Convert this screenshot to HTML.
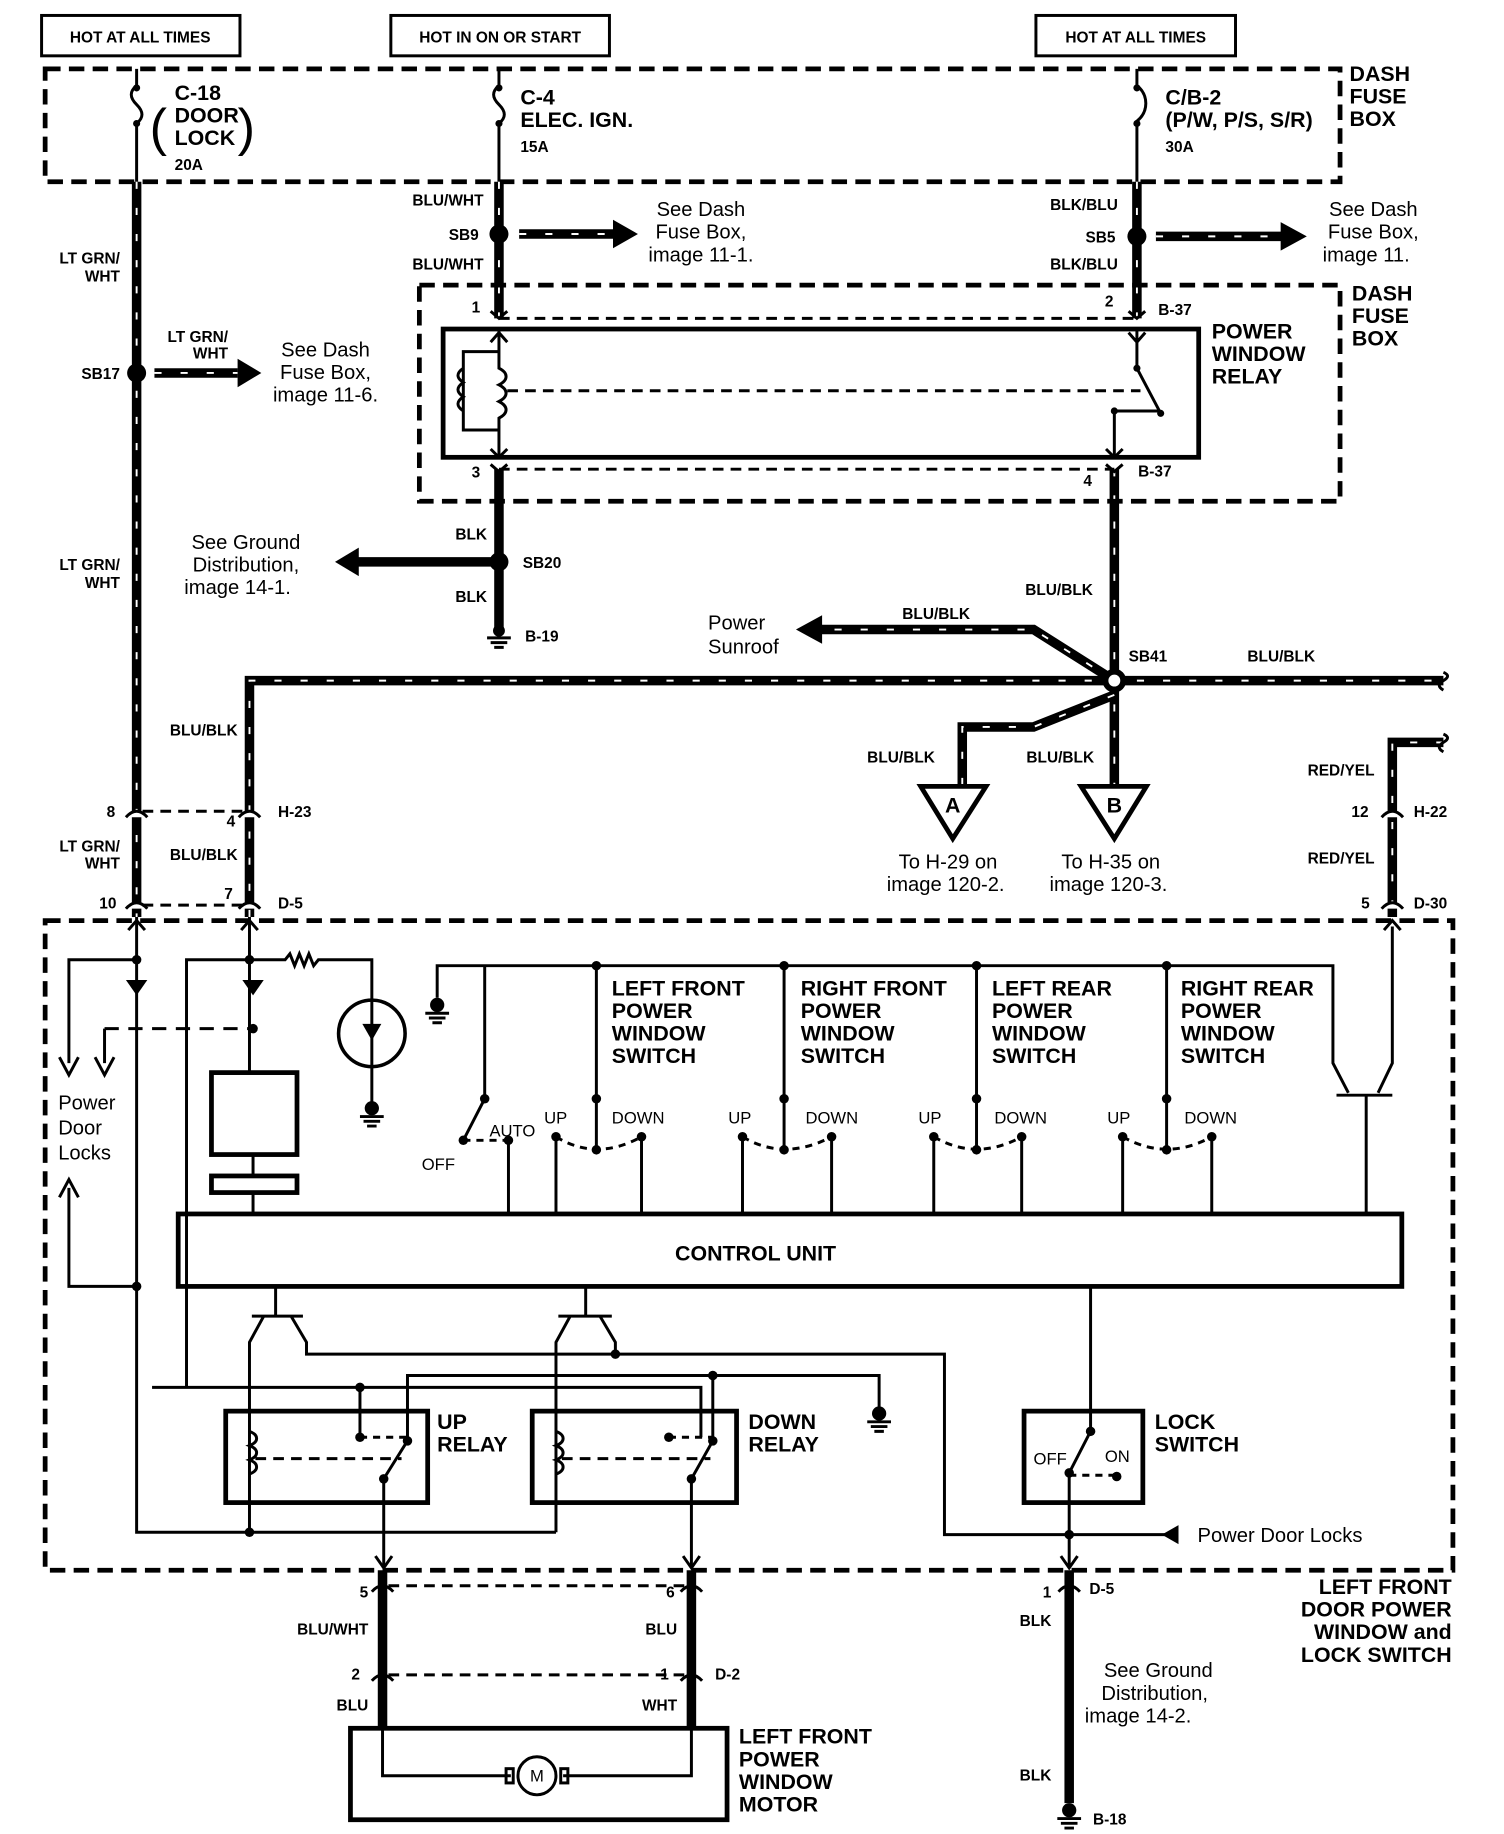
<!DOCTYPE html>
<html><head><meta charset="utf-8"><style>
html,body{margin:0;padding:0;background:#fff}
svg{display:block}
text{font-family:"Liberation Sans",Arial,sans-serif;fill:#000}
.s{font-size:13px;font-weight:bold}
.m{font-size:18px;font-weight:bold}
.r{font-size:17px}
.t{font-size:14px}
.w{fill:none;stroke:#000;stroke-width:8}
.wd{fill:none;stroke:#fff;stroke-width:1.6;stroke-dasharray:6 16}
.l{fill:none;stroke:#000;stroke-width:2.5}
.bx{fill:none;stroke:#000;stroke-width:4}
.db{fill:none;stroke:#000;stroke-width:4;stroke-dasharray:13 7}
.dl{fill:none;stroke:#000;stroke-width:2.5;stroke-dasharray:9 6}
.dot{fill:#000}
</style></head><body>
<svg width="1504" height="1834" viewBox="0 0 1266 1544" preserveAspectRatio="none" xmlns="http://www.w3.org/2000/svg">
<defs>
<path id="w1" fill="none" d="M115 153 V772"/>
<path id="w2" fill="none" d="M420 153 V268"/>
<path id="w3" fill="none" d="M957 153 V268"/>
<path id="w4" fill="none" d="M420 395 V530"/>
<path id="w5" fill="none" d="M938 395 V660"/>
<path id="w6" fill="none" d="M210 772 V573 H1215"/>
<path id="w7" fill="none" d="M938 573 L870 530 H690"/>
<path id="w8" fill="none" d="M938 585 L870 612 H810 V660"/>
<path id="w9" fill="none" d="M1215 625 H1172 V772"/>
<path id="w10" fill="none" d="M130 314 H200"/>
<path id="w11" fill="none" d="M437 197 H518"/>
<path id="w12" fill="none" d="M973 199 H1080"/>
<path id="w13" fill="none" d="M300 473 H420"/>
<path id="w14" fill="none" d="M322 1322 V1455"/>
<path id="w15" fill="none" d="M582 1322 V1455"/>
<path id="w16" fill="none" d="M900 1322 V1518"/>
</defs>
<!-- top boxes -->
<rect x="35" y="13" width="167" height="34" class="l" stroke-width="3"/>
<text x="118" y="36" class="s" text-anchor="middle">HOT AT ALL TIMES</text>
<rect x="329" y="13" width="184" height="34" class="l" stroke-width="3"/>
<text x="421" y="36" class="s" text-anchor="middle">HOT IN ON OR START</text>
<rect x="872" y="13" width="168" height="34" class="l" stroke-width="3"/>
<text x="956" y="36" class="s" text-anchor="middle">HOT AT ALL TIMES</text>

<rect x="38" y="58" width="1090" height="95" class="db"/>
<text class="m"><tspan x="1136" y="68">DASH</tspan><tspan x="1136" y="87">FUSE</tspan><tspan x="1136" y="106">BOX</tspan></text>
<g class="l">
<path d="M115 58 V72 c-6 5 -6 10 0 16 c6 6 6 11 0 16 V153"/>
<path d="M420 58 V72 c-6 5 -6 10 0 16 c6 6 6 11 0 16 V153"/>
<path d="M957 58 V72 c10 8 10 22 0 30 V153"/>
</g>
<circle cx="115" cy="74" r="3" class="dot"/><circle cx="115" cy="104" r="3" class="dot"/>
<circle cx="420" cy="74" r="3" class="dot"/><circle cx="420" cy="104" r="3" class="dot"/>
<circle cx="957" cy="74" r="3" class="dot"/><circle cx="957" cy="104" r="3" class="dot"/>
<text class="m"><tspan x="147" y="84">C-18</tspan><tspan x="147" y="103">DOOR</tspan><tspan x="147" y="122">LOCK</tspan></text>
<text x="126" y="122" style="font-size:44px">(</text><text x="200" y="122" style="font-size:44px">)</text>
<text x="147" y="143" class="s">20A</text>
<text class="m"><tspan x="438" y="88">C-4</tspan><tspan x="438" y="107">ELEC. IGN.</tspan></text>
<text x="438" y="128" class="s">15A</text>
<text class="m"><tspan x="981" y="88">C/B-2</tspan><tspan x="981" y="107">(P/W, P/S, S/R)</tspan></text>
<text x="981" y="128" class="s">30A</text>

<g class="w"><use href="#w1"/><use href="#w2"/><use href="#w3"/><use href="#w4"/><use href="#w5"/><use href="#w6"/><use href="#w7"/><use href="#w8"/><use href="#w9"/><use href="#w10"/><use href="#w11"/><use href="#w12"/><use href="#w13"/><use href="#w14"/><use href="#w15"/><use href="#w16"/></g>
<g class="wd"><use href="#w1"/><use href="#w2"/><use href="#w3"/><use href="#w5"/><use href="#w6"/><use href="#w7"/><use href="#w8"/><use href="#w9"/><use href="#w10"/><use href="#w11"/><use href="#w12"/></g>
<polygon points="200,302 220,314 200,326" class="dot"/>
<polygon points="516,185 537,197 516,209" class="dot"/>
<polygon points="1078,187 1100,199 1078,211" class="dot"/>
<polygon points="302,461 282,473 302,485" class="dot"/>
<polygon points="692,518 670,530 692,542" class="dot"/>
<circle cx="115" cy="314" r="8" class="dot"/>
<circle cx="420" cy="197" r="8" class="dot"/>
<circle cx="957" cy="199" r="8" class="dot"/>
<circle cx="420" cy="473" r="8" class="dot"/>
<circle cx="938" cy="573" r="10" class="dot"/><circle cx="938" cy="573" r="5" fill="#fff"/>
<path d="M1215 566 q7 3 0 7 q-7 4 0 8" class="l"/>
<path d="M1215 618 q7 3 0 7 q-7 4 0 8" class="l"/>

<text class="s" text-anchor="end"><tspan x="101" y="222">LT GRN/</tspan><tspan x="101" y="237">WHT</tspan></text>
<text class="s" text-anchor="end"><tspan x="101" y="480">LT GRN/</tspan><tspan x="101" y="495">WHT</tspan></text>
<text class="s" text-anchor="end"><tspan x="192" y="288">LT GRN/</tspan><tspan x="192" y="302">WHT</tspan></text>
<text x="101" y="319" class="s" text-anchor="end">SB17</text>
<text class="r" text-anchor="middle"><tspan x="274" y="300">See Dash</tspan><tspan x="274" y="319">Fuse Box,</tspan><tspan x="274" y="338">image 11-6.</tspan></text>
<text x="407" y="173" class="s" text-anchor="end">BLU/WHT</text>
<text x="403" y="202" class="s" text-anchor="end">SB9</text>
<text x="407" y="227" class="s" text-anchor="end">BLU/WHT</text>
<text class="r" text-anchor="middle"><tspan x="590" y="182">See Dash</tspan><tspan x="590" y="201">Fuse Box,</tspan><tspan x="590" y="220">image 11-1.</tspan></text>
<text x="941" y="177" class="s" text-anchor="end">BLK/BLU</text>
<text x="939" y="204" class="s" text-anchor="end">SB5</text>
<text x="941" y="227" class="s" text-anchor="end">BLK/BLU</text>
<text class="r" text-anchor="middle"><tspan x="1156" y="182">See Dash</tspan><tspan x="1156" y="201">Fuse Box,</tspan><tspan x="1150" y="220">image 11.</tspan></text>

<rect x="353" y="240" width="775" height="182" class="db"/>
<text class="m"><tspan x="1138" y="253">DASH</tspan><tspan x="1138" y="272">FUSE</tspan><tspan x="1138" y="291">BOX</tspan></text>
<rect x="373" y="277" width="636" height="108" class="bx"/>
<text class="m"><tspan x="1020" y="285">POWER</tspan><tspan x="1020" y="304">WINDOW</tspan><tspan x="1020" y="323">RELAY</tspan></text>
<path d="M420 268 H957" class="dl"/>
<path d="M420 395 H938" class="dl"/>
<g class="l">
<path d="M413 262 L420 268 L427 262 M950 262 L957 268 L964 262 M413 391 L420 397 L427 391 M931 391 L938 397 L945 391"/>
<path d="M420 277 V310 c8 4 8 10 0 14 c8 4 8 10 0 14 c8 4 8 10 0 14 V385 M413 288 L420 280 L427 288 M413 378 L420 385 L427 378"/>
<path d="M420 296 H390 V362 H420 M390 310 c-6 4 -6 8 0 12 c-6 4 -6 8 0 12 c-6 4 -6 8 0 12"/>
<path d="M427 329 H960" stroke-dasharray="9 6"/>
<path d="M957 277 V310 L977 348 M957 288 L950 280 M957 288 L964 280"/>
<path d="M938 385 V346 H975"/>
<path d="M931 378 L938 385 L945 378"/>
</g>
<circle cx="957" cy="310" r="3" class="dot"/><circle cx="977" cy="348" r="3" class="dot"/><circle cx="938" cy="346" r="3" class="dot"/>
<text x="397" y="263" class="s">1</text>
<text x="930" y="258" class="s">2</text>
<text x="975" y="265" class="s">B-37</text>
<text x="397" y="402" class="s">3</text>
<text x="912" y="409" class="s">4</text>
<text x="958" y="401" class="s">B-37</text>

<text x="410" y="454" class="s" text-anchor="end">BLK</text>
<text x="440" y="478" class="s">SB20</text>
<text x="410" y="507" class="s" text-anchor="end">BLK</text>
<text class="r" text-anchor="middle"><tspan x="207" y="462">See Ground</tspan><tspan x="207" y="481">Distribution,</tspan><tspan x="200" y="500">image 14-1.</tspan></text>
<circle cx="420" cy="531" r="5" class="dot"/>
<path d="M410 537 H430 M413 541 H427 M416 545 H424" class="l"/>
<text x="442" y="540" class="s">B-19</text>

<text x="920" y="501" class="s" text-anchor="end">BLU/BLK</text>
<text x="788" y="521" class="s" text-anchor="middle">BLU/BLK</text>
<text class="r"><tspan x="596" y="530">Power</tspan><tspan x="596" y="550">Sunroof</tspan></text>
<text x="950" y="557" class="s">SB41</text>
<text x="1050" y="557" class="s">BLU/BLK</text>
<text x="787" y="642" class="s" text-anchor="end">BLU/BLK</text>
<text x="921" y="642" class="s" text-anchor="end">BLU/BLK</text>
<polygon points="775,662 830,662 802,706" class="bx" fill="#fff"/>
<polygon points="910,662 965,662 938,706" class="bx" fill="#fff"/>
<text x="802" y="684" class="m" text-anchor="middle">A</text>
<text x="938" y="684" class="m" text-anchor="middle">B</text>
<text class="r" text-anchor="middle"><tspan x="798" y="731">To H-29 on</tspan><tspan x="796" y="750">image 120-2.</tspan></text>
<text class="r" text-anchor="middle"><tspan x="935" y="731">To H-35 on</tspan><tspan x="933" y="750">image 120-3.</tspan></text>

<text x="200" y="619" class="s" text-anchor="end">BLU/BLK</text>
<text x="1157" y="653" class="s" text-anchor="end">RED/YEL</text>
<text x="1157" y="727" class="s" text-anchor="end">RED/YEL</text>

<g fill="#fff" stroke="#000" stroke-width="2.5">
<path d="M106 688 Q115 678 124 688 M201 688 Q210 678 219 688 M1163 688 Q1172 678 1181 688"/>
<path d="M106 765 Q115 755 124 765 M201 765 Q210 755 219 765 M1163 765 Q1172 755 1181 765"/>
</g>
<path d="M120 683 H205 M120 762 H205" class="dl" stroke-width="2"/>
<text x="97" y="688" class="s" text-anchor="end">8</text>
<text x="198" y="696" class="s" text-anchor="end">4</text>
<text x="234" y="688" class="s">H-23</text>
<text x="1152" y="688" class="s" text-anchor="end">12</text>
<text x="1190" y="688" class="s">H-22</text>
<text x="98" y="765" class="s" text-anchor="end">10</text>
<text x="196" y="757" class="s" text-anchor="end">7</text>
<text x="234" y="765" class="s">D-5</text>
<text x="1153" y="765" class="s" text-anchor="end">5</text>
<text x="1190" y="765" class="s">D-30</text>
<text class="s" text-anchor="end"><tspan x="101" y="717">LT GRN/</tspan><tspan x="101" y="731">WHT</tspan></text>
<text x="200" y="724" class="s" text-anchor="end">BLU/BLK</text>

<rect x="38" y="775" width="1185" height="547" class="db"/>
<g class="l">
<path d="M108 783 L115 775 L122 783 M203 783 L210 775 L217 783 M1165 783 L1172 775 L1179 783"/>
<path d="M115 772 V1290 H468"/>
<path d="M115 808 H58 V895 M50 890 L58 905 L66 890"/>
<path d="M88 866 V895 M80 890 L88 905 L96 890"/>
<path d="M88 866 H213" stroke-dasharray="12 8"/>
<path d="M115 1083 H58 V1000 M50 1008 L58 993 L66 1008"/>
<path d="M210 772 V903 M213 972 V990 M213 1004 V1022"/>
<path d="M210 808 H157 V1168"/>
<path d="M210 808 H240 l4 -5 l4 10 l4 -10 l4 10 l4 -10 l4 10 l4 -5 H313 V935"/>
<circle cx="313" cy="870" r="28" stroke-width="3"/>
<path d="M128 1168 H590 V1210"/>
<path d="M343 1213 V1158 H740 V1185"/>
<path d="M303 1168 V1210"/>
<rect x="150" y="1022" width="1030" height="61" stroke-width="4"/>
<rect x="178" y="903" width="72" height="69" stroke-width="4"/>
<rect x="178" y="990" width="72" height="14" stroke-width="4"/>
<path d="M368 840 V813 H1122 V895 L1135 920 M1125 922 H1172 M1150 922 V1022 M1172 780 V895 L1160 920"/>
<path d="M408 813 V925 L390 960 M502 813 V968 M660 813 V968 M822 813 V968 M982 813 V968"/>
<path d="M428 960 V1022 M468 957 V1022 M540 957 V1022"/>
<path d="M625 957 V1022 M700 957 V1022 M786 957 V1022 M860 957 V1022 M945 957 V1022 M1020 957 V1022"/>
<path d="M390 960 H428 M468 957 Q502 978 540 957 M625 957 Q660 978 700 957 M786 957 Q822 978 860 957 M945 957 Q982 978 1020 957" stroke-dasharray="6 5"/>
<path d="M232 1083 V1108 M212 1108 H255 M222 1108 L210 1130 V1290 M245 1108 L258 1130 V1140 H795 V1292 H990"/>
<path d="M493 1083 V1108 M470 1108 H515 M480 1108 L468 1130 V1290 M505 1108 L518 1130 V1140"/>
<rect x="190" y="1188" width="170" height="77" stroke-width="4"/>
<rect x="448" y="1188" width="172" height="77" stroke-width="4"/>
<path d="M210 1205 c8 3 8 9 0 12 c8 3 8 9 0 12 c8 3 8 9 0 12 M468 1205 c8 3 8 9 0 12 c8 3 8 9 0 12 c8 3 8 9 0 12"/>
<path d="M215 1228 H338 M473 1228 H598" stroke-dasharray="9 6"/>
<path d="M303 1210 H343 M563 1210 H600" stroke-dasharray="6 5"/>
<path d="M343 1213 L323 1245 V1318 M600 1158 V1213 L582 1245 V1318"/>
<path d="M316 1310 L323 1320 L330 1310 M575 1310 L582 1320 L589 1310"/>
<rect x="862" y="1188" width="100" height="77" stroke-width="4"/>
<path d="M918 1083 V1205 L900 1240 V1318 M893 1310 L900 1320 L907 1310"/>
<path d="M900 1242 H940" stroke-dasharray="6 5"/>
</g>
<g class="dot">
<circle cx="115" cy="808" r="4"/><circle cx="210" cy="808" r="4"/><circle cx="213" cy="866" r="4"/><circle cx="115" cy="1083" r="4"/>
<circle cx="210" cy="1290" r="4"/><circle cx="303" cy="1168" r="4"/><circle cx="600" cy="1158" r="4"/><circle cx="518" cy="1140" r="4"/>
<circle cx="502" cy="813" r="4"/><circle cx="660" cy="813" r="4"/><circle cx="822" cy="813" r="4"/><circle cx="982" cy="813" r="4"/>
<circle cx="408" cy="925" r="4"/><circle cx="390" cy="960" r="4"/><circle cx="428" cy="960" r="4"/><circle cx="468" cy="957" r="4"/><circle cx="540" cy="957" r="4"/>
<circle cx="502" cy="925" r="4"/><circle cx="660" cy="925" r="4"/><circle cx="822" cy="925" r="4"/><circle cx="982" cy="925" r="4"/>
<circle cx="625" cy="957" r="4"/><circle cx="700" cy="957" r="4"/><circle cx="786" cy="957" r="4"/><circle cx="860" cy="957" r="4"/><circle cx="945" cy="957" r="4"/><circle cx="1020" cy="957" r="4"/>
<circle cx="502" cy="968" r="4"/><circle cx="660" cy="968" r="4"/><circle cx="822" cy="968" r="4"/><circle cx="982" cy="968" r="4"/>
<circle cx="303" cy="1210" r="4"/><circle cx="343" cy="1213" r="4"/><circle cx="323" cy="1245" r="4"/>
<circle cx="563" cy="1210" r="4"/><circle cx="600" cy="1213" r="4"/><circle cx="582" cy="1245" r="4"/>
<circle cx="918" cy="1205" r="4"/><circle cx="900" cy="1240" r="4"/><circle cx="940" cy="1243" r="4"/><circle cx="900" cy="1292" r="4"/>
<polygon points="106,825 124,825 115,838"/><polygon points="204,825 222,825 213,838"/>
<polygon points="305,862 321,862 313,876"/>
<polygon points="992,1284 978,1292 992,1300"/>
</g>
<circle cx="368" cy="846" r="6" class="dot"/><path d="M358 853 H378 M361 857 H375 M364 861 H372" class="l"/>
<circle cx="313" cy="933" r="6" class="dot"/><path d="M303 940 H323 M306 944 H320 M309 948 H317" class="l"/>
<circle cx="740" cy="1190" r="6" class="dot"/><path d="M730 1197 H750 M733 1201 H747 M736 1205 H744" class="l"/>
<circle cx="900" cy="1524" r="6" class="dot"/><path d="M890 1531 H910 M893 1535 H907 M896 1539 H904" class="l"/>
<text class="t"><tspan x="355" y="985">OFF</tspan><tspan x="412" y="957">AUTO</tspan><tspan x="458" y="946">UP</tspan><tspan x="515" y="946">DOWN</tspan></text>
<text class="t"><tspan x="613" y="946">UP</tspan><tspan x="678" y="946">DOWN</tspan><tspan x="773" y="946">UP</tspan><tspan x="837" y="946">DOWN</tspan><tspan x="932" y="946">UP</tspan><tspan x="997" y="946">DOWN</tspan></text>
<text class="t"><tspan x="870" y="1233">OFF</tspan><tspan x="930" y="1231">ON</tspan></text>
<text class="m"><tspan x="515" y="838">LEFT FRONT</tspan><tspan x="515" y="857">POWER</tspan><tspan x="515" y="876">WINDOW</tspan><tspan x="515" y="895">SWITCH</tspan></text>
<text class="m"><tspan x="674" y="838">RIGHT FRONT</tspan><tspan x="674" y="857">POWER</tspan><tspan x="674" y="876">WINDOW</tspan><tspan x="674" y="895">SWITCH</tspan></text>
<text class="m"><tspan x="835" y="838">LEFT REAR</tspan><tspan x="835" y="857">POWER</tspan><tspan x="835" y="876">WINDOW</tspan><tspan x="835" y="895">SWITCH</tspan></text>
<text class="m"><tspan x="994" y="838">RIGHT REAR</tspan><tspan x="994" y="857">POWER</tspan><tspan x="994" y="876">WINDOW</tspan><tspan x="994" y="895">SWITCH</tspan></text>
<text class="r"><tspan x="49" y="934">Power</tspan><tspan x="49" y="955">Door</tspan><tspan x="49" y="976">Locks</tspan></text>
<text x="636" y="1061" class="m" text-anchor="middle">CONTROL UNIT</text>
<text class="m"><tspan x="368" y="1203">UP</tspan><tspan x="368" y="1222">RELAY</tspan></text>
<text class="m"><tspan x="630" y="1203">DOWN</tspan><tspan x="630" y="1222">RELAY</tspan></text>
<text class="m"><tspan x="972" y="1203">LOCK</tspan><tspan x="972" y="1222">SWITCH</tspan></text>
<text x="1008" y="1298" class="r">Power Door Locks</text>

<path d="M327 1335 H577 M327 1410 H577" class="dl" stroke-width="2"/>
<g fill="none" stroke="#000" stroke-width="2.5">
<path d="M313 1340 Q322 1330 331 1340 M573 1340 Q582 1330 591 1340 M891 1340 Q900 1330 909 1340"/>
<path d="M313 1415 Q322 1405 331 1415 M573 1415 Q582 1405 591 1415"/>
</g>
<text x="310" y="1345" class="s" text-anchor="end">5</text>
<text x="568" y="1345" class="s" text-anchor="end">6</text>
<text x="885" y="1345" class="s" text-anchor="end">1</text>
<text x="917" y="1342" class="s">D-5</text>
<text x="310" y="1376" class="s" text-anchor="end">BLU/WHT</text>
<text x="570" y="1376" class="s" text-anchor="end">BLU</text>
<text x="885" y="1369" class="s" text-anchor="end">BLK</text>
<text x="303" y="1414" class="s" text-anchor="end">2</text>
<text x="563" y="1414" class="s" text-anchor="end">1</text>
<text x="602" y="1414" class="s">D-2</text>
<text x="310" y="1440" class="s" text-anchor="end">BLU</text>
<text x="570" y="1440" class="s" text-anchor="end">WHT</text>
<text x="885" y="1499" class="s" text-anchor="end">BLK</text>
<text x="920" y="1536" class="s">B-18</text>
<text class="r" text-anchor="middle"><tspan x="975" y="1412">See Ground</tspan><tspan x="972" y="1431">Distribution,</tspan><tspan x="958" y="1450">image 14-2.</tspan></text>
<text class="m" text-anchor="end"><tspan x="1222" y="1342">LEFT FRONT</tspan><tspan x="1222" y="1361">DOOR POWER</tspan><tspan x="1222" y="1380">WINDOW and</tspan><tspan x="1222" y="1399">LOCK SWITCH</tspan></text>
<rect x="295" y="1455" width="317" height="77" class="bx"/>
<path d="M322 1455 V1495 H430 M474 1495 H582 V1455" class="l"/>
<circle cx="452" cy="1495" r="16" class="l" stroke-width="3"/>
<rect x="426" y="1489" width="6" height="12" class="l"/><rect x="472" y="1489" width="6" height="12" class="l"/>
<text x="452" y="1500" class="t" text-anchor="middle">M</text>
<text class="m"><tspan x="622" y="1468">LEFT FRONT</tspan><tspan x="622" y="1487">POWER</tspan><tspan x="622" y="1506">WINDOW</tspan><tspan x="622" y="1525">MOTOR</tspan></text>
</svg>
</body></html>
